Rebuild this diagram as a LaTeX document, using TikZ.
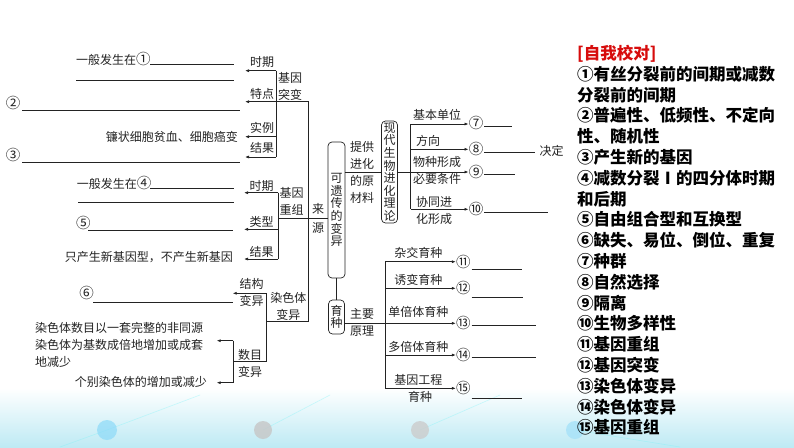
\documentclass[tikz,border=0pt]{standalone}
\usepackage{fontspec}
\newfontfamily\cjk{Noto Sans CJK SC}
\usetikzlibrary{arrows.meta,positioning,calc}
\definecolor{inkgray}{RGB}{35,35,35}
\definecolor{checkred}{RGB}{215,12,12}
\definecolor{bandcyan}{RGB}{190,234,244}
\newcommand\circnum[1]{{\fontsize{14.5}{14.5}\selectfont #1}}

\begin{document}
\begin{tikzpicture}[x=1pt, y=-1pt,
    every node/.style={font=\cjk\fontsize{12}{17}\selectfont, inner sep=0pt, align=center, text=inkgray},
    vbox/.style={draw=inkgray, rounded corners=4pt, line width=0.7pt, inner sep=1pt, minimum width=17pt, font=\cjk\fontsize{12}{12.6}\selectfont},
    link/.style={draw=inkgray, line width=0.7pt},
    arr/.style={link, -{Latex[length=4pt,width=3pt]}},
    blank/.style={draw=inkgray, line width=0.7pt}]

  % background and bottom band
  \useasboundingbox (0,0) rectangle (794,447);
  \fill[white] (0,0) rectangle (794,447);
  \shade[top color=white, bottom color=bandcyan] (0,388) rectangle (794,447);
  \draw[bandcyan!60!cyan, opacity=0.35, line width=0.6pt] (60,447) -- (107,430) -- (200,395) (263,430) -- (330,395) (420,430) -- (500,395) (575,430) -- (680,447);
  \fill[cyan!45, opacity=0.7] (107,430) circle (10);
  \fill[gray!45, opacity=0.8] (263,430) circle (9);
  \fill[gray!40, opacity=0.8] (420,430) circle (9);
  \fill[cyan!35, opacity=0.8] (575,430) circle (9);

  % main boxes
  \node[vbox, minimum height=136pt] (kyc) at (336.5,210) {可\\遗\\传\\的\\变\\异};
  \node[vbox, minimum width=16pt, minimum height=102pt] (xd) at (389.5,172) {现\\代\\生\\物\\进\\化\\理\\论};
  \node[vbox, minimum width=16pt, minimum height=34pt] (yz) at (336.5,317) {育\\种};
  \draw[link] (kyc) -- (yz);

  % gene mutation
  \node (tb) at (290,86) {基因\\突变};
  \node at (262,62) {时期};
  \node at (262,93.5) {特点};
  \node at (262,128) {实例};
  \node at (262,148) {结果};
  \coordinate (tbT) at (276,70.7);
  \coordinate (tbM) at (276,101.7);
  \coordinate (tbS) at (276,136.7);
  \coordinate (tbB) at (276,157);
  \coordinate (tb1) at (245,70.7);
  \coordinate (tb2) at (245,101.7);
  \coordinate (tb3) at (245,136.7);
  \coordinate (tb4) at (245,157);
  \draw[link] (tbT) -- (tbB);
  \draw[arr] (tbT) -- (tb1);
  \draw[arr] (tbM) -- (tb2);
  \draw[arr] (tbS) -- (tb3);
  \draw[arr] (tbB) -- (tb4);
  \node[anchor=west] (q1) at (76,59) {一般发生在\circnum{①}};
  \draw[blank] (150,64) -- (234,64);
  \draw[blank] (76,80) -- (234,80);
  \node (q2) at (13,103) {\circnum{②}};
  \draw[blank] (22,110.5) -- (240,110.5);
  \node[anchor=east] (eg) at (238,136.5) {镰状细胞贫血、细胞癌变};
  \node (q3) at (13,155) {\circnum{③}};
  \draw[blank] (22,162.5) -- (240,162.5);

  % gene recombination
  \node (gr) at (291.7,201.7) {基因\\重组};
  \node at (261.7,186) {时期};
  \node at (261.7,221.7) {类型};
  \node at (261.7,251.7) {结果};
  \coordinate (grT) at (278.3,192.7);
  \coordinate (grM) at (278.3,218.3);
  \coordinate (grS) at (278.3,229.3);
  \coordinate (grB) at (278.3,259);
  \coordinate (gr1) at (244,192.7);
  \coordinate (gr2) at (244,229.3);
  \coordinate (gr3) at (244,259);
  \draw[link] (grT) -- (grB);
  \draw[arr] (grT) -- (gr1);
  \draw[arr] (grS) -- (gr2);
  \draw[arr] (grB) -- (gr3);
  \draw[link] (grM) -- (grM -| kyc.west);
  \node (ly) at (318,218.5) {来\\[2pt]源};
  \node[anchor=west] (q4) at (76.7,182.5) {一般发生在\circnum{④}};
  \draw[blank] (150,188.5) -- (234,188.5);
  \draw[blank] (78,202.7) -- (234,202.7);
  \node (q5) at (83.3,222.5) {\circnum{⑤}};
  \draw[blank] (88,230.7) -- (233,230.7);
  \node[anchor=east] (rs) at (233,257.5) {只产生新基因型，不产生新基因};

  % chromosome variation
  \node (rst) at (288.3,306) {染色体\\变异};
  \node (jg) at (251.7,292.8) {结构\\变异};
  \node (sm) at (250,363.3) {数目\\变异};
  \coordinate (rsT) at (266.7,293.3);
  \coordinate (rsM) at (266.7,321.7);
  \coordinate (rsB) at (266.7,361.7);
  \coordinate (jgE) at (232.7,293.3);
  \coordinate (smL) at (233.3,361.7);
  \coordinate (smT) at (233.3,340.7);
  \coordinate (smB) at (233.3,382.7);
  \coordinate (plE) at (216.7,340.7);
  \coordinate (anE) at (216.7,382.7);
  \draw[link] (rsT) -- (rsB);
  \draw[arr] (rsT) -- (jgE);
  \draw[link] (rsB) -- (smL);
  \draw[link] (smT) -- (smB);
  \draw[arr] (smT) -- (plE);
  \draw[arr] (smB) -- (anE);
  \node (q6) at (86.7,293.3) {\circnum{⑥}};
  \draw[blank] (93.3,302.7) -- (233.3,302.7);
  \node[anchor=west, align=left] (pl) at (35,345) {染色体数目以一套完整的非同源\\染色体为基数成倍地增加或成套\\地减少};
  \node[anchor=east] (an) at (207,381.5) {个别染色体的增加或减少};

  % trunk of the sources
  \coordinate (trunkT) at (308,101.7);
  \coordinate (trunkB) at (308,321.7);
  \draw[link] (tbM) -- (trunkT) -- (trunkB) -- (rsM);

  % evolution theory
  \node (tg) at (362,172) {提供\\进化\\的原\\材料};
  \draw[link] (kyc.east |- xd.west) -- (xd.west);
  \coordinate (evT) at (410.7,124);
  \coordinate (evD) at (410.7,149.3);
  \coordinate (evM) at (410.7,172);
  \coordinate (evB) at (410.7,209.3);
  \draw[link] (xd.east) -- (evM);
  \draw[link] (evT) -- (evB);
  \node (n7) at (476,123) {\circnum{⑦}};
  \node (n8) at (476,149.3) {\circnum{⑧}};
  \node (n9) at (476,172) {\circnum{⑨}};
  \node (n10) at (476,209.3) {\circnum{⑩}};
  \draw[arr] (evT) -- (n7.west |- evT);
  \draw[arr] (evD) -- (n8.west);
  \draw[arr] (evM) -- (n9.west);
  \draw[arr] (evB) -- (n10.west);
  \node at (437,115) {基本单位};
  \node at (428,141) {方向};
  \node at (437,170.5) {物种形成\\必要条件};
  \node at (434,210) {协同进\\化形成};
  \draw[blank] (484,126) -- (511.7,126);
  \draw[blank] (484,152) -- (535,152);
  \node (jd) at (551.7,151) {决定};
  \draw[blank] (484,174) -- (515,174);
  \draw[blank] (484,212) -- (548,212);

  % breeding
  \node (zy) at (362,322.5) {主要\\原理};
  \coordinate (brT) at (385,261.7);
  \coordinate (br2) at (385,288.3);
  \coordinate (brM) at (385,323.3);
  \coordinate (br4) at (385,355);
  \coordinate (brB) at (385,388.3);
  \draw[link] (yz.east |- brM) -- (brM);
  \draw[link] (brT) -- (brB);
  \node (n11) at (463.3,261.7) {\circnum{⑪}};
  \node (n12) at (463.3,288.3) {\circnum{⑫}};
  \node (n13) at (463.3,323.3) {\circnum{⑬}};
  \node (n14) at (463.3,355) {\circnum{⑭}};
  \node (n15) at (463.3,388.3) {\circnum{⑮}};
  \draw[arr] (brT) -- (n11.west);
  \draw[arr] (br2) -- (n12.west);
  \draw[arr] (brM) -- (n13.west);
  \draw[arr] (br4) -- (n14.west);
  \draw[arr] (brB) -- (n15.west);
  \node at (418.3,253) {杂交育种};
  \node at (418.3,280) {诱变育种};
  \node at (418.3,312) {单倍体育种};
  \node at (418.3,346.5) {多倍体育种};
  \node at (418.3,380) {基因工程};
  \node at (420,397) {育种};
  \draw[blank] (471.5,269) -- (521.7,269);
  \draw[blank] (471.5,297.3) -- (522.7,297.3);
  \draw[blank] (471.5,325) -- (536,325);
  \draw[blank] (471.5,357) -- (536,357);
  \draw[blank] (471.5,398.3) -- (521.7,398.3);

  % answers
  \node[anchor=north west, align=left, text=black, font=\cjk\bfseries\fontsize{16.5}{20.8}\selectfont] (check) at (577,45)
    {\textcolor{checkred}{[自我校对]}\\
     ①有丝分裂前的间期或减数\\分裂前的间期\\
     ②普遍性、低频性、不定向\\性、随机性\\
     ③产生新的基因\\
     ④减数分裂Ⅰ的四分体时期\\和后期\\
     ⑤自由组合型和互换型\\
     ⑥缺失、易位、倒位、重复\\
     ⑦种群\\⑧自然选择\\⑨隔离\\⑩生物多样性\\
     ⑪基因重组\\⑫基因突变\\⑬染色体变异\\⑭染色体变异\\⑮基因重组};
\end{tikzpicture}
\end{document}
